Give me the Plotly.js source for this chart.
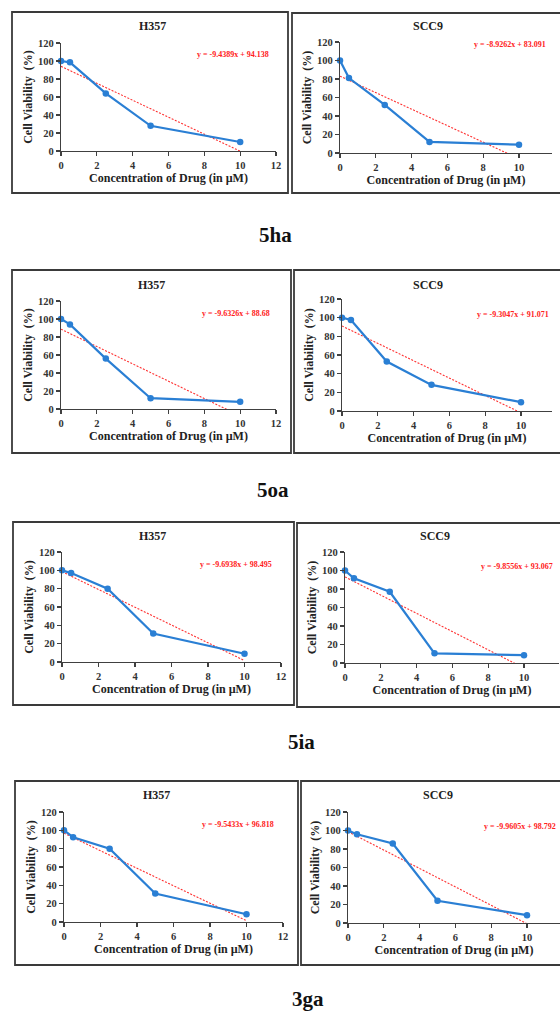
<!DOCTYPE html>
<html>
<head>
<meta charset="utf-8">
<script src="https://cdn.plot.ly/plotly-3.0.1.min.js"></script>
<style>
  html, body { margin: 0; padding: 0; background: #ffffff; }
  #chart { width: 560px; height: 1014px; }
</style>
</head>
<body>
<div id="chart"></div>
<script>
// ---------------- DATA ----------------
const concentration = [0, 0.5, 2.5, 5, 10];           // µM
const compounds = ["5ha", "5oa", "5ia", "3ga"];
const cellLines = ["H357", "SCC9"];

const viability_5ha_H357 = [100, 98.5, 64, 28, 10];
const viability_5ha_SCC9 = [100, 81, 52, 12, 9];
const viability_5oa_H357 = [100, 94, 56, 12, 8];
const viability_5oa_SCC9 = [100, 97.5, 53, 28, 9.5];
const viability_5ia_H357 = [100, 97, 80, 31, 9];
const viability_5ia_SCC9 = [100, 91.5, 77, 10.5, 8.5];
const viability_3ga_H357 = [100, 92.5, 80, 31, 8.5];
const viability_3ga_SCC9 = [100, 96, 86, 24, 8.5];

// linear trendline equations shown on each panel (y = slope*x + intercept)
const trendSlopes     = [-9.4389, -8.9262, -9.6326, -9.3047, -9.6938, -9.8556, -9.5433, -9.9605];
const trendIntercepts = [94.138, 83.091, 88.68, 91.071, 98.495, 93.067, 96.818, 98.792];
const trendRangeX = [0, 10];

const xTicks = [0, 2, 4, 6, 8, 10, 12];
const yTicks = [0, 20, 40, 60, 80, 100, 120];

const panelSeries = [
  viability_5ha_H357, viability_5ha_SCC9,
  viability_5oa_H357, viability_5oa_SCC9,
  viability_5ia_H357, viability_5ia_SCC9,
  viability_3ga_H357, viability_3ga_SCC9
];

// ---------------- LAYOUT GEOMETRY (pixels) ----------------
const W = 560, H = 1014;
const pxPerUnit = 17.9;
const plotAreas = [
  {l: 61,  r: 276, t: 43,  b: 151},
  {l: 340, r: 552, t: 42,  b: 153},
  {l: 61,  r: 276, t: 301, b: 409},
  {l: 342, r: 552, t: 299, b: 411},
  {l: 62,  r: 281, t: 552, b: 662},
  {l: 345, r: 559, t: 552, b: 663},
  {l: 64,  r: 283, t: 812, b: 922},
  {l: 348, r: 560, t: 812, b: 923}
];
const boxes = [
  {l: 12,  r: 288, t: 12,  b: 193},
  {l: 292, r: 575, t: 13,  b: 193},
  {l: 12,  r: 291, t: 270, b: 453},
  {l: 294, r: 575, t: 270, b: 453},
  {l: 13,  r: 294, t: 522, b: 705},
  {l: 297, r: 575, t: 523, b: 707},
  {l: 15,  r: 298, t: 781, b: 965},
  {l: 301, r: 575, t: 781, b: 965}
];
const titlePos = [
  {x: 152, y: 26}, {x: 428, y: 26},
  {x: 151, y: 285}, {x: 428, y: 285},
  {x: 153, y: 536}, {x: 435, y: 536},
  {x: 156, y: 795}, {x: 438, y: 795}
];
const eqPos = [
  {x: 195, y: 55}, {x: 472, y: 44},
  {x: 200, y: 313}, {x: 475, y: 315},
  {x: 198, y: 564}, {x: 479, y: 566},
  {x: 200, y: 824}, {x: 482, y: 826}
];
const labelPos = [
  {x: 275, y: 235}, {x: 273, y: 490}, {x: 301, y: 742}, {x: 308, y: 999}
];

const px = x => x / W;
const py = y => 1 - y / H;

const FONT = "Liberation Serif, Times New Roman, serif";
const blue = "#2a7fd4";
const axisColor = "#404040";

const traces = [];
const layout = {
  width: W, height: H,
  margin: {l: 0, r: 0, t: 0, b: 0},
  paper_bgcolor: "#ffffff",
  plot_bgcolor: "rgba(0,0,0,0)",
  showlegend: false,
  font: {family: FONT, color: "#222", size: 11},
  shapes: [],
  annotations: []
};

plotAreas.forEach((a, i) => {
  const n = i + 1;
  const xa = "x" + (n === 1 ? "" : n);
  const ya = "y" + (n === 1 ? "" : n);
  const xKey = "xaxis" + (n === 1 ? "" : n);
  const yKey = "yaxis" + (n === 1 ? "" : n);
  const xmax = (a.r - a.l) / pxPerUnit;

  traces.push({
    x: trendRangeX,
    y: trendRangeX.map(v => trendSlopes[i] * v + trendIntercepts[i]),
    xaxis: xa, yaxis: ya,
    mode: "lines",
    line: {color: "#ff3030", width: 1.1, dash: "2px,1.5px"},
    hoverinfo: "skip"
  });
  traces.push({
    x: concentration,
    y: panelSeries[i],
    xaxis: xa, yaxis: ya,
    mode: "lines+markers",
    line: {color: blue, width: 2.2},
    marker: {color: blue, size: 6.5},
    cliponaxis: false
  });

  layout[xKey] = {
    domain: [px(a.l), px(a.r)],
    anchor: ya,
    range: [0, Math.min(12, xmax)],
    tickvals: xTicks,
    ticks: "outside", ticklen: 4, tickwidth: 1.2, tickcolor: axisColor,
    showline: true, linecolor: axisColor, linewidth: 1.2,
    showgrid: false, zeroline: false,
    tickfont: {family: FONT, size: 10.5, color: "#333", weight: "bold"},
    title: {
      text: "Concentration of Drug (in µM)",
      font: {family: FONT, size: 12, color: "#222", weight: "bold"},
      standoff: 3
    },
    automargin: false,
    fixedrange: true
  };
  layout[yKey] = {
    domain: [py(a.b), py(a.t)],
    anchor: xa,
    range: [0, 120],
    tickvals: yTicks,
    ticks: "outside", ticklen: 4, tickwidth: 1.2, tickcolor: axisColor,
    showline: true, linecolor: axisColor, linewidth: 1.2,
    showgrid: false, zeroline: false,
    tickfont: {family: FONT, size: 10.5, color: "#333", weight: "bold"},
    title: {
      text: "Cell Viability  (%)",
      font: {family: FONT, size: 12, color: "#222", weight: "bold"},
      standoff: 2
    },
    automargin: false,
    fixedrange: true
  };

  const bx = boxes[i];
  layout.shapes.push({
    type: "rect", xref: "paper", yref: "paper",
    x0: px(bx.l), x1: px(bx.r), y0: py(bx.b), y1: py(bx.t),
    line: {color: "#3a3a3a", width: 1.8}, fillcolor: "rgba(0,0,0,0)", layer: "below"
  });

  layout.annotations.push({
    xref: "paper", yref: "paper",
    x: px(titlePos[i].x), y: py(titlePos[i].y),
    xanchor: "center", yanchor: "middle",
    text: cellLines[i % 2], showarrow: false,
    font: {family: FONT, size: 12, color: "#222", weight: "bold"}
  });

  const s = trendSlopes[i], c = trendIntercepts[i];
  layout.annotations.push({
    xref: "paper", yref: "paper",
    x: px(eqPos[i].x), y: py(eqPos[i].y),
    xanchor: "left", yanchor: "middle",
    text: "y = " + s + "x + " + c, showarrow: false,
    font: {family: FONT, size: 8, color: "#ff2020", weight: "bold"}
  });
});

compounds.forEach((name, k) => {
  layout.annotations.push({
    xref: "paper", yref: "paper",
    x: px(labelPos[k].x), y: py(labelPos[k].y),
    xanchor: "center", yanchor: "middle",
    text: name, showarrow: false,
    font: {family: FONT, size: 21, color: "#111", weight: "bold"}
  });
});

Plotly.newPlot("chart", traces, layout, {staticPlot: true, displayModeBar: false});
</script>
</body>
</html>
